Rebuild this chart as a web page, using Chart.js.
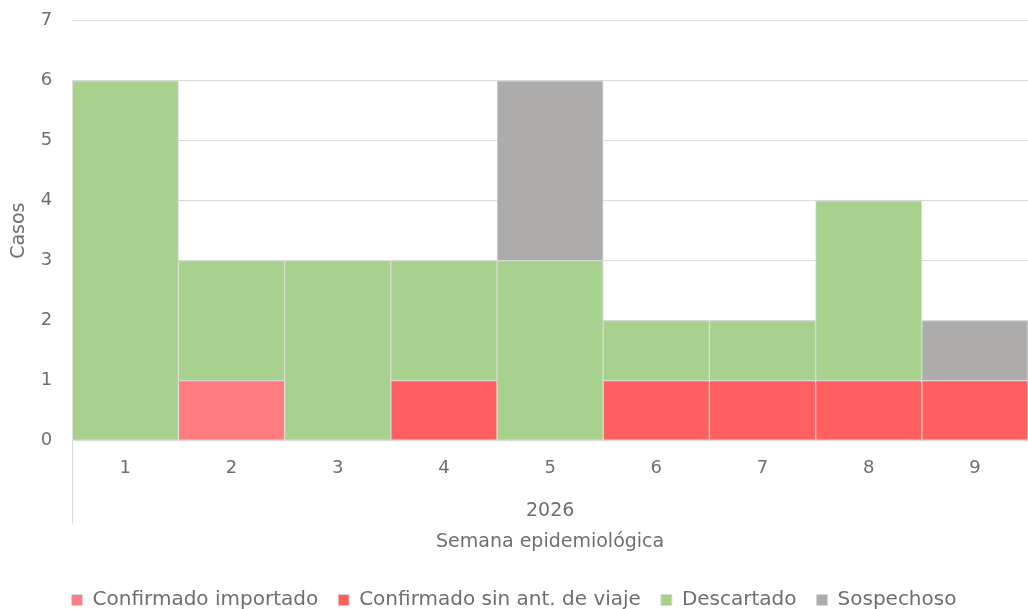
<!DOCTYPE html>
<html>
<head>
<meta charset="utf-8">
<script src="https://cdn.jsdelivr.net/npm/chart.js@4"></script>
<style>
  html, body { margin: 0; padding: 0; background: #fff; overflow: hidden; }
  #wrap { width: 1028px; height: 619px; margin-top: -10px; }
</style>
</head>
<body>
<div id="wrap"><canvas id="myChart"></canvas></div>
<script>
const semanas = ['1', '2', '3', '4', '5', '6', '7', '8', '9'];
const confirmadoImportado = [0, 1, 0, 0, 0, 0, 0, 0, 0];
const confirmadoSinViaje = [0, 0, 0, 1, 0, 1, 1, 1, 1];
const descartado = [6, 2, 3, 2, 3, 1, 1, 3, 0];
const sospechoso = [0, 0, 0, 0, 3, 0, 0, 0, 1];
const anio = '2026';

const gris = '#6f6f6f';
const fuente = "'DejaVu Sans', sans-serif";
Chart.defaults.font.family = fuente;
Chart.defaults.color = gris;

function serie(label, data, color) {
  return {
    label,
    data,
    backgroundColor: color,
    borderColor: '#d9d9d9',
    borderWidth: 1,
    borderSkipped: false,
    categoryPercentage: 1,
    barPercentage: 1,
  };
}

// linea vertical del eje de categorias de dos niveles (estilo Excel)
const lineaGrupo = {
  id: 'lineaGrupo',
  afterDraw(chart) {
    const { ctx, scales } = chart;
    const x = Math.round(scales.x.left) + 0.5;
    ctx.save();
    ctx.strokeStyle = '#d9d9d9';
    ctx.lineWidth = 1;
    ctx.beginPath();
    ctx.moveTo(x, scales.y.bottom);
    ctx.lineTo(x, scales.y.bottom + 83);
    ctx.stroke();
    ctx.restore();
  }
};

const ctx = document.getElementById('myChart');

new Chart(ctx, {
  type: 'bar',
  data: {
    labels: semanas,
    datasets: [
      serie('Confirmado importado', confirmadoImportado, '#ff7c80'),
      serie('Confirmado sin ant. de viaje', confirmadoSinViaje, '#ff5f5f'),
      serie('Descartado', descartado, '#a9d18e'),
      serie('Sospechoso', sospechoso, '#aeabab'),
    ],
  },
  options: {
    responsive: true,
    maintainAspectRatio: false,
    animation: false,
    layout: { padding: { top: 0, right: 0, left: 0, bottom: -11 } },
    plugins: {
      tooltip: { enabled: false },
      legend: {
        position: 'bottom',
        labels: {
          boxWidth: 11,
          boxHeight: 11,
          padding: 20,
          font: { size: 20 },
          color: gris,
        },
      },
    },
    scales: {
      x: {
        stacked: true,
        grid: { display: false },
        border: { display: true, color: '#d9d9d9' },
        ticks: { font: { size: 18 }, padding: 9 },
        title: {
          display: true,
          text: [anio, 'Semana epidemiológica'],
          font: { size: 19, lineHeight: 1.6 },
          padding: { top: 8, bottom: 13 },
        },
      },
      y: {
        stacked: true,
        min: 0,
        max: 7,
        border: { display: false },
        grid: { color: '#d9d9d9', drawTicks: false },
        ticks: { stepSize: 1, font: { size: 18 }, padding: 20 },
        title: {
          display: true,
          text: 'Casos',
          font: { size: 19 },
          padding: { top: 8, bottom: -10 },
        },
      },
    },
  },
  plugins: [lineaGrupo],
});
</script>
</body>
</html>
